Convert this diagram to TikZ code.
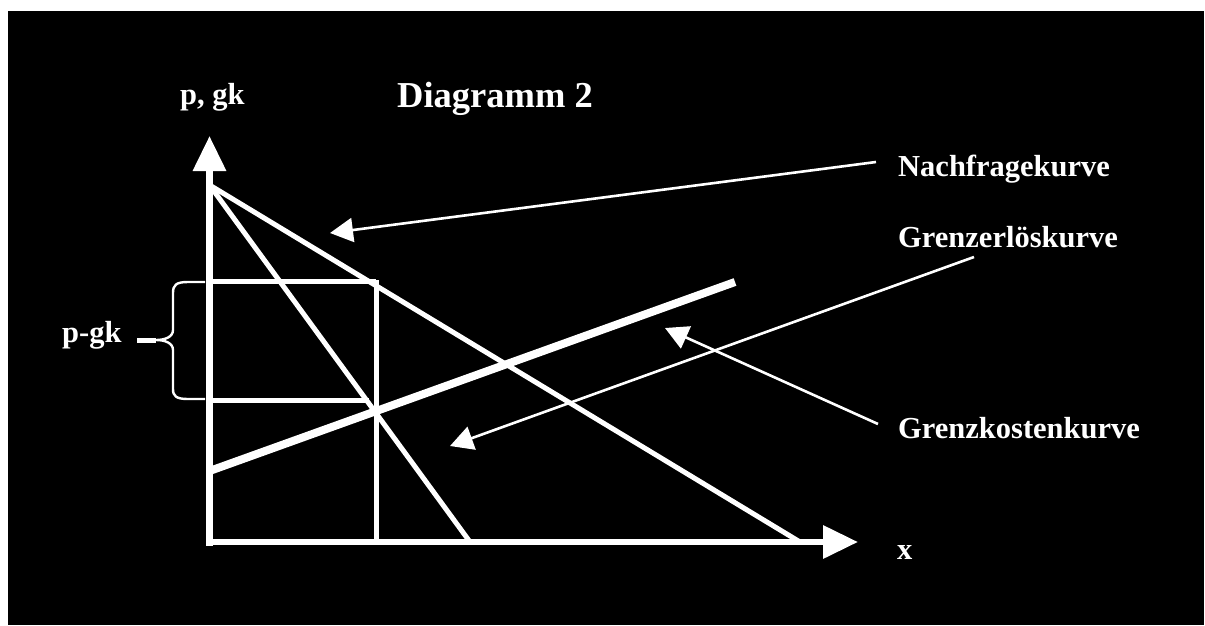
\documentclass[tikz,border=0pt]{standalone}
\usepackage{fontspec}
\setmainfont{Liberation Serif}
\usetikzlibrary{arrows.meta}
\begin{document}
\begin{tikzpicture}[x=1pt,y=-1pt,
  curve/.style={draw=white,line width=5pt},
  axis/.style={draw=white,line width=6.5pt,-{Triangle[length=35pt,width=32pt]}},
  pointer/.style={draw=white,line width=2.6pt,-{Triangle[length=23pt,width=24pt]}},
  lbl/.style={text=white,font=\bfseries\fontsize{30.5}{32}\selectfont,anchor=base west,inner sep=0pt},
  title/.style={text=white,font=\bfseries\fontsize{36.5}{38}\selectfont,anchor=base west,inner sep=0pt}]
\useasboundingbox (0,0) rectangle (1205,625);
\fill[white] (0,0) rectangle (1205,625);
\fill[black] (8,11) rectangle (1204,625);
% coordinates
\coordinate (O) at (209.5,542);
\coordinate (Ytip) at (209.5,136);
\coordinate (Xtip) at (858,542);
\coordinate (D0) at (209.5,185);
\coordinate (D1) at (800,542);
\coordinate (M1) at (470,542);
\coordinate (C0) at (209.5,471);
\coordinate (C1) at (735,282);
\coordinate (Vt) at (376,280);
\coordinate (Vb) at (376,542);
\coordinate (Hp) at (376,281);
\coordinate (Hg) at (369,400);
\coordinate (Ap) at (209.5,281);
\coordinate (Ag) at (209.5,400);
% axes
\draw[axis] (209.5,545.5) -- (Ytip);
\draw[axis] (206,542) -- (Xtip);
% curves
\draw[curve] (D0) -- (D1);
\draw[curve] (D0) -- (M1);
\draw[draw=white,line width=8pt] (C0) -- (C1);
\draw[curve] (Vt) -- (Vb);
\draw[curve] (Ap) -- (Hp);
\draw[curve] (Ag) -- (Hg);
% brace
\coordinate (Btip) at (156,340);
\draw[white,line width=2.4pt] (205,282) -- (188,282) .. controls (176,282) and (173,285) .. (173,293) -- (173,330) .. controls (173,337) and (165,340) .. (Btip) .. controls (165,340) and (173,343) .. (173,350) -- (173,389) .. controls (173,396) and (176,399) .. (188,399) -- (205,399);
\coordinate (Bstub) at (137,340);
\draw[white,line width=5pt] (Bstub) -- (Btip);
% labels
\node[lbl] (pg) at (62,342) {p-gk};
\node[lbl] (yl) at (180,104) {p, gk};
\node[title] (tt) at (397,107) {Diagramm 2};
\node[lbl] (xl) at (897,559) {x};
\node[lbl] (nk) at (898,176) {Nachfragekurve};
\node[lbl] (ek) at (898,247) {Grenzerlöskurve};
\node[lbl] (kk) at (898,438) {Grenzkostenkurve};
% pointers
\coordinate (n0) at (876,162);
\coordinate (n1) at (330,233);
\coordinate (e0) at (974,257);
\coordinate (e1) at (450,446);
\coordinate (k0) at (878,424);
\coordinate (k1) at (665,328);
\draw[pointer] (n0) -- (n1);
\draw[pointer] (e0) -- (e1);
\draw[pointer] (k0) -- (k1);
\end{tikzpicture}
\end{document}
